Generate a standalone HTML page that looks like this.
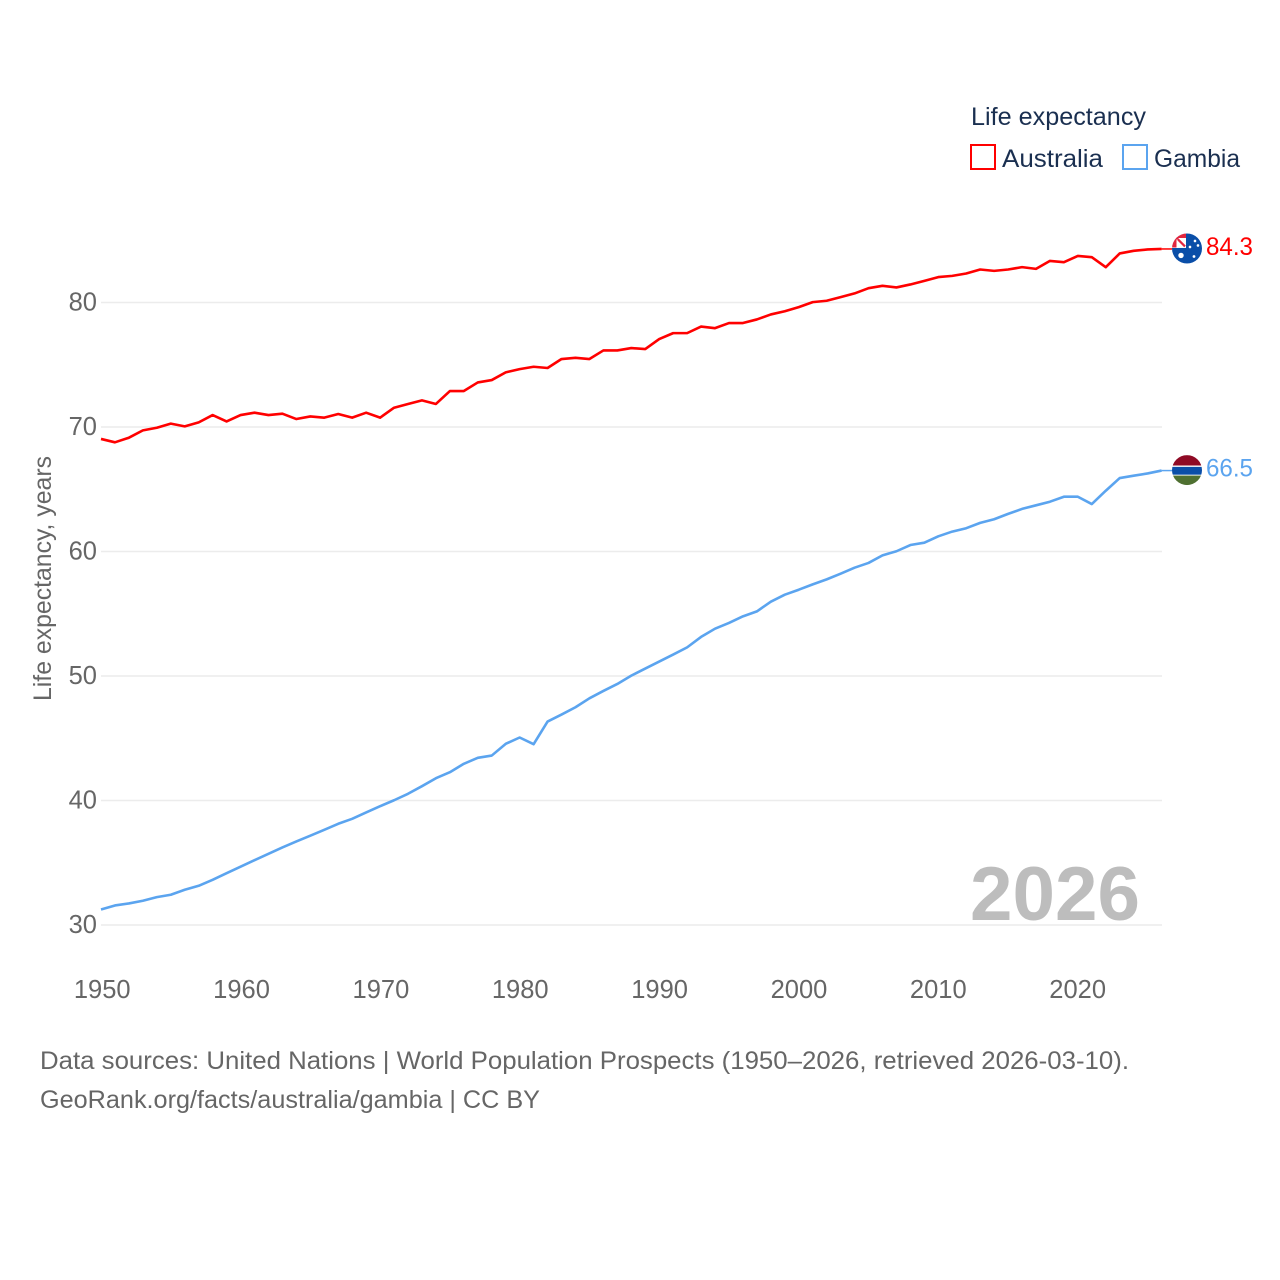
<!DOCTYPE html>
<html lang="en">
<head>
<meta charset="utf-8">
<title>Life expectancy: Australia and Gambia</title>
<style>
html,body{margin:0;padding:0;background:#fff;}
svg{display:block;font-family:"Liberation Sans",sans-serif;}
</style>
</head>
<body>
<svg id="chart" xmlns="http://www.w3.org/2000/svg" width="1280" height="1280" viewBox="0 0 1280 1280">
  <rect x="0" y="0" width="1280" height="1280" fill="#ffffff"/>
  <defs>
    <clipPath id="flag-clip"><circle cx="0" cy="0" r="15"/></clipPath>
  </defs>
  <g id="grid"></g>
  <g id="y-ticks"></g>
  <g id="x-ticks"></g>
  <text transform="translate(51,701) rotate(-90)" font-size="25" fill="#666666" textLength="245" lengthAdjust="spacingAndGlyphs">Life expectancy, years</text>
  <text id="year-label" x="970" y="920" font-size="76" font-weight="700" fill="#bdbdbd" textLength="170" lengthAdjust="spacingAndGlyphs">2026</text>
  <path id="line-australia" fill="none" stroke="#ff0000" stroke-width="2.6" stroke-linejoin="round"/>
  <path id="line-gambia" fill="none" stroke="#5ba4ef" stroke-width="2.6" stroke-linejoin="round"/>
  <path id="leader-australia" fill="none" stroke="#ff0000" stroke-width="1.5"/>
  <path id="leader-gambia" fill="none" stroke="#5ba4ef" stroke-width="1.5"/>

  <g id="flag-australia">
    <g clip-path="url(#flag-clip)">
      <rect x="-15" y="-15" width="30" height="30" fill="#0a4ea8"/>
      <rect x="-15" y="-15" width="14" height="14.5" fill="#ffffff"/>
      <path d="M-11,-11 L-2,-2" stroke="#e2263f" stroke-width="2.2"/>
      <path d="M-15,-10 L-15,-9 L-9.5,-9 L-9.5,-0.5 L-15,-0.5 Z" fill="#ffffff"/>
      <path d="M-15,-15 H-1 V-10.5 H-10.5 V-1 H-15 Z" fill="#e2263f"/>
      <circle cx="-6" cy="7" r="2.7" fill="#ffffff"/>
      <circle cx="8" cy="-7.5" r="1.3" fill="#ffffff"/>
      <circle cx="11" cy="-3" r="1.3" fill="#ffffff"/>
      <circle cx="3" cy="-1.5" r="1.3" fill="#ffffff"/>
      <circle cx="7" cy="8" r="1.4" fill="#ffffff"/>
    </g>
  </g>
  <g id="flag-gambia">
    <g clip-path="url(#flag-clip)">
      <rect x="-15" y="-15" width="30" height="10.5" fill="#8f0a25"/>
      <rect x="-15" y="-4.5" width="30" height="10" fill="#ffffff"/>
      <rect x="-15" y="-3.2" width="30" height="7.8" fill="#0a4ea8"/>
      <rect x="-15" y="5.5" width="30" height="9.5" fill="#4f7031"/>
    </g>
  </g>
  <text id="value-australia" x="1206" font-size="25" fill="#ff0000" textLength="47" lengthAdjust="spacingAndGlyphs"></text>
  <text id="value-gambia" x="1206" font-size="25" fill="#5ba4ef" textLength="47" lengthAdjust="spacingAndGlyphs"></text>

  <g>
    <text x="971" y="125" font-size="25" fill="#1a2f50" textLength="175" lengthAdjust="spacingAndGlyphs">Life expectancy</text>
    <g>
      <rect x="971" y="145" width="24" height="24" fill="none" stroke="#ff0000" stroke-width="2"/>
      <text x="1002" y="167" font-size="25" fill="#1a2f50" textLength="101" lengthAdjust="spacingAndGlyphs">Australia</text>
    </g>
    <g>
      <rect x="1123" y="145" width="24" height="24" fill="none" stroke="#5ba4ef" stroke-width="2"/>
      <text x="1154" y="167" font-size="25" fill="#1a2f50" textLength="86" lengthAdjust="spacingAndGlyphs">Gambia</text>
    </g>
  </g>

  <text x="40" y="1069" font-size="25" fill="#666666" textLength="1089" lengthAdjust="spacingAndGlyphs">Data sources: United Nations | World Population Prospects (1950–2026, retrieved 2026-03-10).</text>
  <text x="40" y="1108" font-size="25" fill="#666666" textLength="500" lengthAdjust="spacingAndGlyphs">GeoRank.org/facts/australia/gambia | CC BY</text>
</svg>
<script>
const startYear = 1950;
const australiaValues = [69.04,68.77,69.14,69.73,69.94,70.27,70.05,70.37,70.96,70.45,70.96,71.15,70.96,71.07,70.64,70.85,70.75,71.04,70.75,71.15,70.75,71.55,71.85,72.14,71.85,72.89,72.89,73.58,73.77,74.39,74.65,74.84,74.74,75.46,75.56,75.46,76.15,76.15,76.34,76.26,77.06,77.54,77.54,78.07,77.94,78.35,78.35,78.64,79.04,79.3,79.63,80.03,80.14,80.43,80.73,81.15,81.34,81.21,81.45,81.74,82.04,82.14,82.33,82.65,82.54,82.65,82.84,82.7,83.34,83.24,83.74,83.64,82.84,83.94,84.15,84.26,84.3];
const gambiaValues = [31.25,31.57,31.73,31.95,32.24,32.43,32.83,33.15,33.63,34.16,34.68,35.21,35.72,36.23,36.71,37.17,37.65,38.13,38.53,39.04,39.54,40.02,40.54,41.15,41.79,42.27,42.95,43.43,43.61,44.55,45.06,44.52,46.34,46.9,47.49,48.21,48.8,49.36,50.03,50.6,51.16,51.72,52.3,53.14,53.8,54.26,54.79,55.19,55.97,56.53,56.93,57.36,57.76,58.22,58.7,59.08,59.69,60.02,60.52,60.71,61.22,61.6,61.87,62.3,62.59,63.02,63.42,63.71,64.0,64.4,64.4,63.81,64.88,65.9,66.09,66.27,66.5];
const yTickValues = [30,40,50,60,70,80];
const xTickYears = [1950,1960,1970,1980,1990,2000,2010,2020];

const NS = 'http://www.w3.org/2000/svg';
const x = function (year) { return 101 + (year - 1950) * 13.955; };
const y = function (value) { return 925 - (value - 30) * 12.45; };

function linePath(values) {
  return values.map(function (v, i) {
    return (i ? 'L' : 'M') + x(startYear + i).toFixed(2) + ',' + y(v).toFixed(2);
  }).join(' ');
}

const grid = document.getElementById('grid');
const yTicks = document.getElementById('y-ticks');
const xTicks = document.getElementById('x-ticks');

yTickValues.forEach(function (v) {
  const gl = document.createElementNS(NS, 'line');
  
  
  gl.setAttribute('x1', 101);
  gl.setAttribute('x2', 1162);
  gl.setAttribute('y1', y(v));
  gl.setAttribute('y2', y(v));
  gl.setAttribute('stroke', '#ececec');
  gl.setAttribute('stroke-width', '1.5');
  grid.appendChild(gl);

  const t = document.createElementNS(NS, 'text');
  
  
  t.setAttribute('x', 97);
  t.setAttribute('y', y(v) + 8);
  t.setAttribute('text-anchor', 'end');
  t.setAttribute('font-size', '25.5');
  t.setAttribute('fill', '#666666');
  t.textContent = v;
  yTicks.appendChild(t);
});

xTickYears.forEach(function (yr) {
  const t = document.createElementNS(NS, 'text');
  
  
  t.setAttribute('x', x(yr) + 1.2 - (yr - 1950) * 0.02);
  t.setAttribute('y', 998);
  t.setAttribute('text-anchor', 'middle');
  t.setAttribute('font-size', '25.5');
  t.setAttribute('fill', '#666666');
  t.textContent = yr;
  xTicks.appendChild(t);
});

document.getElementById('line-australia').setAttribute('d', linePath(australiaValues));
document.getElementById('line-gambia').setAttribute('d', linePath(gambiaValues));

function placeEnd(values, key) {
  const last = values[values.length - 1];
  const lastX = x(startYear + values.length - 1);
  const lastY = y(last);
  document.getElementById('leader-' + key).setAttribute('d', 'M' + lastX + ',' + lastY + ' L1172,' + lastY);
  document.getElementById('flag-' + key).setAttribute('transform', 'translate(1187,' + (lastY - 0.5) + ')');
  const label = document.getElementById('value-' + key);
  label.setAttribute('y', lastY + 6);
  label.textContent = last.toFixed(1);
}
placeEnd(australiaValues, 'australia');
placeEnd(gambiaValues, 'gambia');
</script>
</body>
</html>
